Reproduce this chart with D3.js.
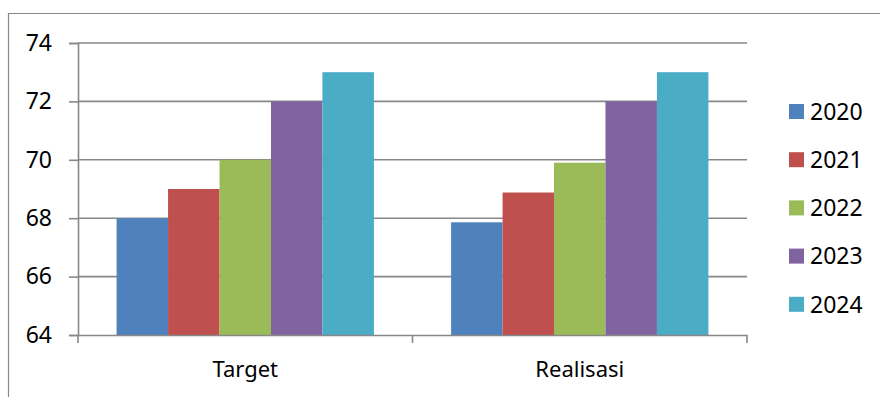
<!DOCTYPE html>
<html>
<head>
<meta charset="utf-8">
<script src="https://cdn.jsdelivr.net/npm/d3@7"></script>
<style>
  body { margin: 0; background: #fff; }
  svg { display: block; font-family: "Noto Sans", sans-serif; }
</style>
</head>
<body>
<svg id="chart" width="880" height="397"></svg>
<script>
const categories = ["Target", "Realisasi"];
const years = ["2020", "2021", "2022", "2023", "2024"];
const values2020 = [68, 67.86];
const values2021 = [69, 68.88];
const values2022 = [70, 69.9];
const values2023 = [72, 72];
const values2024 = [73, 73];
const yTicks = [64, 66, 68, 70, 72, 74];
const colors = ["#4F81BD", "#C0504D", "#9BBB59", "#8064A2", "#4BACC6"];

const series = [values2020, values2021, values2022, values2023, values2024];

const svg = d3.select("#chart");
const plot = { left: 78, right: 747, top: 43, bottom: 335 };
const gridColor = "#888";

// outer chart frame (right and bottom edges fall off the picture)
svg.append("path")
    .attr("d", "M8.5,397 V13.5 H880")
    .attr("fill", "none")
    .attr("stroke", gridColor)
    .attr("stroke-width", 1.2);

const y = d3.scaleLinear().domain([64, 74]).range([plot.bottom, plot.top]);
const x0 = d3.scaleBand().domain(categories).range([plot.left, plot.right]).padding(0);
const x1 = d3.scaleBand().domain(years).range([0, x0.bandwidth()])
    .paddingInner(0).paddingOuter(0.75);

// gridlines
svg.append("g")
    .selectAll("line")
    .data(yTicks.slice(1))
    .join("line")
    .attr("x1", plot.left).attr("x2", plot.right)
    .attr("y1", d => y(d)).attr("y2", d => y(d))
    .attr("stroke", gridColor)
    .attr("stroke-width", 1.6);

// bars
const groups = svg.append("g")
    .selectAll("g")
    .data(categories)
    .join("g")
    .attr("transform", d => `translate(${x0(d)},0)`);

groups.selectAll("rect")
    .data((c, ci) => years.map((yr, i) => ({ yr, i, v: series[i][ci] })))
    .join("rect")
    .attr("x", d => x1(d.yr))
    .attr("width", x1.bandwidth())
    .attr("y", d => y(d.v))
    .attr("height", d => plot.bottom - y(d.v))
    .attr("fill", d => colors[d.i]);

// y axis
const yAxis = svg.append("g")
    .attr("transform", `translate(${plot.left},0)`)
    .call(d3.axisLeft(y).tickValues(yTicks).tickSize(9).tickPadding(17).tickFormat(d3.format("d")));
yAxis.select(".domain").attr("stroke", gridColor).attr("stroke-width", 1.6);
yAxis.selectAll(".tick line").attr("stroke", gridColor).attr("stroke-width", 1.6);
yAxis.selectAll(".tick text")
    .attr("font-size", "23px")
    .attr("fill", "#000")
    .attr("font-family", "Noto Sans");

// x axis
const xAxis = svg.append("g")
    .attr("transform", `translate(0,${plot.bottom})`)
    .call(d3.axisBottom(x0).tickSize(0).tickPadding(26));
xAxis.select(".domain").attr("stroke", gridColor).attr("stroke-width", 1.6);
xAxis.selectAll(".tick text")
    .attr("font-size", "22px")
    .attr("fill", "#000")
    .attr("font-family", "Noto Sans");

// category divider ticks
svg.append("g")
    .selectAll("line")
    .data([plot.left, x0("Realisasi"), plot.right])
    .join("line")
    .attr("x1", d => d).attr("x2", d => d)
    .attr("y1", plot.bottom).attr("y2", plot.bottom + 8)
    .attr("stroke", gridColor)
    .attr("stroke-width", 1.6);

// legend
const legend = svg.append("g")
    .selectAll("g")
    .data(years)
    .join("g")
    .attr("transform", (d, i) => `translate(789,${111.5 + i * 48.2})`);
legend.append("rect")
    .attr("x", 0).attr("y", -7.5)
    .attr("width", 15).attr("height", 15)
    .attr("fill", (d, i) => colors[i]);
legend.append("text")
    .attr("x", 21)
    .attr("dy", "0.36em")
    .attr("font-size", "23px")
    .attr("fill", "#000")
    .text(d => d);
</script>
</body>
</html>
